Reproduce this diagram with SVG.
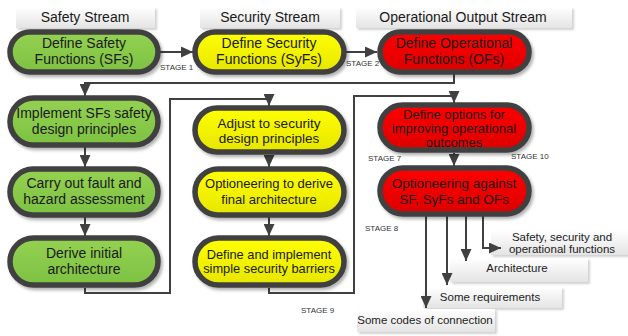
<svg xmlns="http://www.w3.org/2000/svg" width="628" height="336" viewBox="0 0 628 336">
<defs>
<linearGradient id="gG" x1="0" y1="0" x2="0" y2="1"><stop offset="0" stop-color="#95d152"/><stop offset="1" stop-color="#7dc242"/></linearGradient>
<linearGradient id="gY" x1="0" y1="0" x2="0" y2="1"><stop offset="0" stop-color="#ffff00"/><stop offset="1" stop-color="#e6e600"/></linearGradient>
<linearGradient id="gR" x1="0" y1="0" x2="0" y2="1"><stop offset="0" stop-color="#ff0000"/><stop offset="1" stop-color="#dd0000"/></linearGradient>
<linearGradient id="gB" x1="0" y1="0" x2="0" y2="1"><stop offset="0" stop-color="#ffffff"/><stop offset="1" stop-color="#e4e4e4"/></linearGradient>
<filter id="sh" x="-10%" y="-20%" width="125%" height="150%"><feDropShadow dx="2" dy="2.5" stdDeviation="1.5" flood-color="#000" flood-opacity="0.3"/></filter>
<filter id="bsh" x="-10%" y="-20%" width="125%" height="160%"><feDropShadow dx="2" dy="2" stdDeviation="1.2" flood-color="#000" flood-opacity="0.18"/></filter>
<marker id="ah" markerUnits="userSpaceOnUse" markerWidth="12" markerHeight="11" refX="12" refY="5.5" orient="auto"><path d="M0,0 L12,5.5 L0,11 z" fill="#404040"/></marker>
</defs>
<style>
.n{stroke:#404040;stroke-width:5.5;filter:url(#sh)}
.g{fill:url(#gG)}.y{fill:url(#gY)}.r{fill:url(#gR)}
.b{fill:url(#gB);filter:url(#bsh)}
.t{font-family:"Liberation Sans",Arial,sans-serif;font-size:14px;fill:#1a1a1a;text-anchor:middle}
.s{font-family:"Liberation Sans",Arial,sans-serif;font-size:8px;fill:#333}
.o{font-family:"Liberation Sans",Arial,sans-serif;font-size:11.5px;fill:#222;text-anchor:middle}
.ca{fill:none;stroke:#404040;stroke-width:2;marker-end:url(#ah)}
</style>

<g id="headers">
<g id="h-safety"><rect class="b" x="16" y="7" width="139" height="21"/><text class="t" x="85" y="22">Safety Stream</text></g>
<g id="h-security"><rect class="b" x="200" y="7" width="140" height="21"/><text class="t" x="270" y="22">Security Stream</text></g>
<g id="h-operational"><rect class="b" x="356" y="7" width="216" height="21"/><text class="t" x="463" y="22">Operational Output Stream</text></g>
</g>

<g id="outputs">
<g id="o1"><rect class="b" x="491" y="230" width="137" height="25"/><text class="o" x="562" y="241">Safety, security and</text><text class="o" x="562" y="253">operational functions</text></g>
<g id="o2"><rect class="b" x="450" y="258" width="138" height="24"/><text class="o" x="517" y="272">Architecture</text></g>
<g id="o3"><rect class="b" x="423" y="287" width="139" height="21"/><text class="o" x="490" y="301">Some requirements</text></g>
<g id="o4"><rect class="b" x="357" y="309" width="138" height="23"/><text class="o" x="425" y="324">Some codes of connection</text></g>
</g>

<g id="connectors">
<path class="ca" d="M160,52 L193,52"/>
<path class="ca" d="M346,52 L377,52"/>
<path class="ca" d="M454,74 L454,83 L85,83 L85,96"/>
<path class="ca" d="M85,147 L85,167"/>
<path class="ca" d="M85,217 L85,236"/>
<path class="ca" d="M85,288 L85,293 L170,293 L170,99 L269,99 L269,106"/>
<path class="ca" d="M269,155 L269,167"/>
<path class="ca" d="M269,217 L269,236"/>
<path class="ca" d="M269,288 L269,293 L354,293 L354,96 L454,96 L454,103"/>
<path class="ca" d="M454,153 L454,166"/>
<path class="ca" d="M426,216 L426,308"/>
<path class="ca" d="M447,216 L447,285"/>
<path class="ca" d="M466,216 L466,261"/>
<path class="ca" d="M483,216 L483,248 L501,248"/>
</g>

<g id="n1"><rect class="n g" x="10" y="32" width="148" height="40" rx="20"/><text class="t" x="84" y="48">Define Safety</text><text class="t" x="84" y="64">Functions (SFs)</text></g>
<g id="n2"><rect class="n y" x="195" y="32" width="149" height="40" rx="20"/><text class="t" x="269" y="48">Define Security</text><text class="t" x="269" y="64">Functions (SyFs)</text></g>
<g id="n3"><rect class="n r" x="380" y="32" width="149" height="40" rx="20"/><text class="t" x="454" y="48">Define Operational</text><text class="t" x="454" y="64">Functions (OFs)</text></g>

<g id="n4"><rect class="n g" x="10" y="98" width="148" height="47" rx="23.5"/><text class="t" x="84" y="118">Implement SFs safety</text><text class="t" x="84" y="134">design principles</text></g>
<g id="n5"><rect class="n g" x="10" y="169" width="148" height="46" rx="23"/><text class="t" x="84" y="188">Carry out fault and</text><text class="t" x="84" y="204">hazard assessment</text></g>
<g id="n6"><rect class="n g" x="10" y="238" width="148" height="47" rx="23.5"/><text class="t" x="84" y="258">Derive initial</text><text class="t" x="84" y="274">architecture</text></g>

<g id="n7"><rect class="n y" x="195" y="108" width="149" height="44" rx="22"/><text class="t" x="269" y="128" style="font-size:13.5px">Adjust to security</text><text class="t" x="269" y="143" style="font-size:13.5px">design principles</text></g>
<g id="n8"><rect class="n y" x="195" y="169" width="149" height="46" rx="23"/><text class="t" x="269" y="188" style="font-size:13px">Optioneering to derive</text><text class="t" x="269" y="204" style="font-size:13px">final architecture</text></g>
<g id="n9"><rect class="n y" x="195" y="238" width="149" height="47" rx="23.5"/><text class="t" x="269" y="259" style="font-size:12.8px">Define and implement</text><text class="t" x="269" y="273" style="font-size:12.8px">simple security barriers</text></g>

<g id="n10"><rect class="n r" x="380" y="105" width="149" height="45" rx="22.5"/><text class="t" x="454" y="118.5" style="font-size:13px">Define options for</text><text class="t" x="454" y="132.5" style="font-size:13px">improving operational</text><text class="t" x="454" y="146.5" style="font-size:13px">outcomes</text></g>
<g id="n11"><rect class="n r" x="380" y="168" width="149" height="46" rx="23"/><text class="t" x="454" y="188" style="font-size:13.5px">Optioneering against</text><text class="t" x="454" y="204" style="font-size:13.5px">SF, SyFs and OFs</text></g>

<g id="stages">
<text class="s" x="160" y="70">STAGE 1</text>
<text class="s" x="346" y="66">STAGE 2</text>
<text class="s" x="368" y="161">STAGE 7</text>
<text class="s" x="511" y="159">STAGE 10</text>
<text class="s" x="365" y="231">STAGE 8</text>
<text class="s" x="301" y="313">STAGE 9</text>
</g>
</svg>
